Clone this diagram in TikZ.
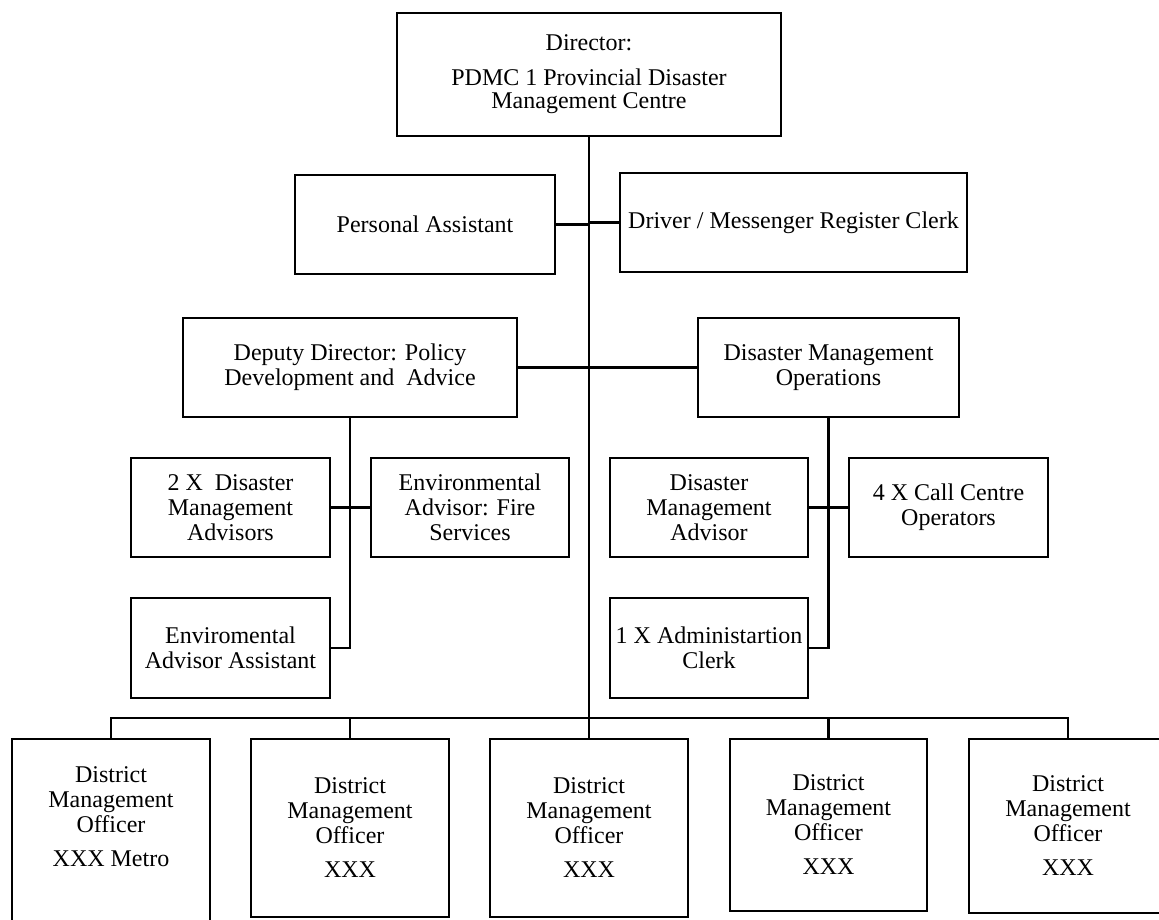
\documentclass[tikz,border=0pt]{standalone}
\usepackage{fontspec}
\setmainfont{Liberation Serif}
\begin{document}
\begin{tikzpicture}[x=1pt,y=-1pt,
  box/.style={draw, line width=2.2pt, rectangle, align=center, inner sep=1pt,
    font=\fontsize{24}{25}\selectfont},
  txt/.style={align=center, inner sep=0pt, font=\fontsize{24}{25}\selectfont},
  conn/.style={line width=2.6pt}]
\useasboundingbox (0,0) rectangle (1159,919);
% top level
\node[box, minimum width=384, minimum height=123,
  font=\fontsize{24}{23}\selectfont] (dir) at (589,74.5)
  {Director:\\[12pt]PDMC 1 Provincial Disaster\\Management Centre};
\node[box, minimum width=260, minimum height=99] (pa) at (425,224.5) {Personal Assistant};
\node[box, minimum width=347, minimum height=99] (drv) at (793.5,222.5) {Driver / Messenger Register Clerk};
% second level
\node[box, minimum width=334, minimum height=99] (dep) at (350,367.5) {Deputy Director: Policy\\Development and\ \ Advice};
\node[box, minimum width=261, minimum height=99] (dmo) at (828.5,367.5) {Disaster Management\\Operations};
% deputy branch
\node[box, minimum width=199, minimum height=99] (dm2) at (230.5,507.5) {2 X\ \ Disaster\\Management\\Advisors};
\node[box, minimum width=198, minimum height=99] (ef) at (470,507.5) {Environmental\\Advisor: Fire\\Services};
\node[box, minimum width=199, minimum height=100] (ea) at (230.5,648) {Enviromental\\Advisor Assistant};
% operations branch
\node[box, minimum width=198, minimum height=99] (dma) at (709,507.5) {Disaster\\Management\\Advisor};
\node[box, minimum width=199, minimum height=99] (cc) at (948.5,507.5) {4 X Call Centre\\Operators};
\node[box, minimum width=198, minimum height=100] (adm) at (709,648) {1 X Administartion\\Clerk};
% district officers
\node[box, minimum width=198, minimum height=221] (b1) at (111,849.5) {};
\node[txt] (t1) at (111,817) {District\\Management\\Officer\\[9pt]XXX Metro};
\node[box, minimum width=198, minimum height=178] (b2) at (350,828) {District\\Management\\Officer\\[9pt]XXX};
\node[box, minimum width=198, minimum height=178] (b3) at (589,828) {District\\Management\\Officer\\[9pt]XXX};
\node[box, minimum width=197, minimum height=172] (b4) at (828.5,825) {District\\Management\\Officer\\[9pt]XXX};
\node[box, minimum width=198, minimum height=174] (b5) at (1068,826) {District\\Management\\Officer\\[9pt]XXX};
% connectors
\coordinate (bus) at (589,718);
\draw[conn] (dir.south) -- (b3.north);
\draw[conn] (pa.east) -- (pa.east -| dir.south);
\draw[conn] (drv.west) -- (drv.west -| dir.south);
\draw[conn] (dep.east) -- (dmo.west);
\draw[conn] (dep.south) |- (ea.east);
\draw[conn] (dm2.east) -- (ef.west);
\draw[conn] (dmo.south) |- (adm.east);
\draw[conn] (dma.east) -- (cc.west);
\draw[conn] (b1.north) |- (bus) -| (b5.north);
\draw[conn] (b2.north) -- (b2.north |- bus);
\draw[conn] (b4.north) -- (b4.north |- bus);
\end{tikzpicture}
\end{document}
